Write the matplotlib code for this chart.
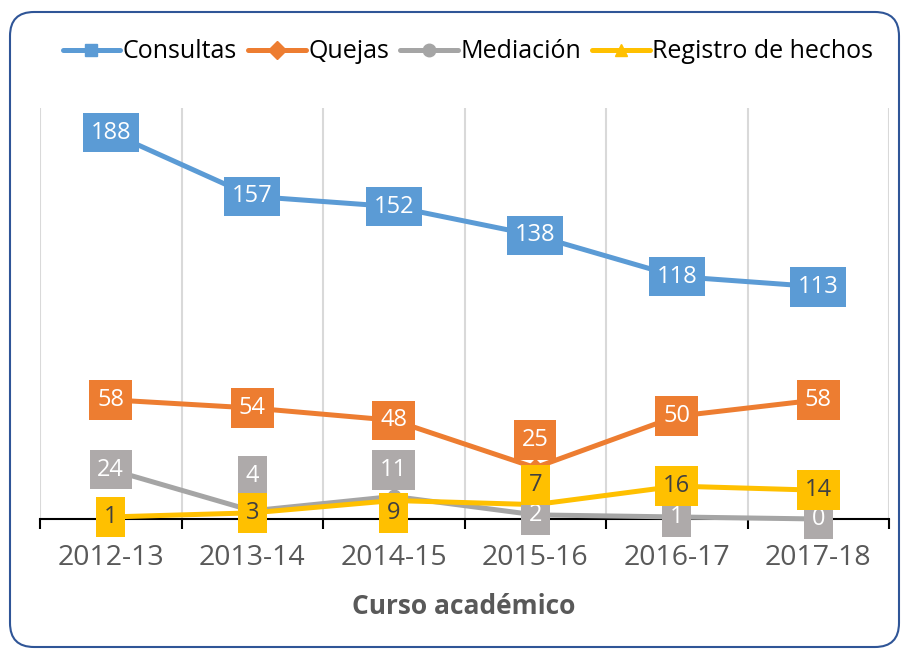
import matplotlib
matplotlib.use("Agg")
import matplotlib.pyplot as plt
from matplotlib.patches import FancyBboxPatch
from matplotlib.ticker import FixedLocator

plt.rcParams['font.family'] = ['Open Sans', 'DejaVu Sans']

# ─── Data ───
cursos = ["2012-13", "2013-14", "2014-15", "2015-16", "2016-17", "2017-18"]
consultas = [188, 157, 152, 138, 118, 113]
quejas = [58, 54, 48, 25, 50, 58]
mediacion = [24, 4, 11, 2, 1, 0]
registro = [1, 3, 9, 7, 16, 14]

series = [
    ("Consultas", consultas, "#5B9BD5", "#5B9BD5", "white", "s"),
    ("Quejas", quejas, "#ED7D31", "#ED7D31", "white", "D"),
    ("Mediación", mediacion, "#A5A5A5", "#AEAAAA", "white", "o"),
    ("Registro de hechos", registro, "#FFC000", "#FFC000", "#404040", "^"),
]

# label nudges in points (series index, category index) -> dy
nudges = {(1, 3): 20, (2, 1): 25, (2, 2): 19, (3, 2): -9, (3, 3): 14}

W, H = 903, 652
fig = plt.figure(figsize=(W / 100, H / 100), dpi=100)
fig.patch.set_facecolor("white")

# rounded border
bg = fig.add_axes([0, 0, 1, 1], zorder=-1)
bg.set_xlim(0, W)
bg.set_ylim(H, 0)
bg.axis("off")
bg.add_patch(FancyBboxPatch((10, 12), 889, 635,
                            boxstyle="round,pad=0,rounding_size=24",
                            facecolor="white", edgecolor="#2F5597", lw=1.5))

ax = fig.add_axes([40 / W, 1 - 519 / H, 849 / W, 411 / H])
ax.patch.set_alpha(0)
x = list(range(len(cursos)))
ax.set_xlim(-0.5, len(cursos) - 0.5)
ax.set_ylim(0, 200)

handles = []
for i, (name, vals, lc, bc, tc, mk) in enumerate(series):
    ln, = ax.plot(x, vals, color=lc, lw=3.6, marker=mk, markersize=9,
                  solid_capstyle="round", zorder=2 + i, label=name, clip_on=False)
    handles.append(ln)

for i, (name, vals, lc, bc, tc, mk) in enumerate(series):
    for j, v in enumerate(vals):
        dy = nudges.get((i, j), 0)
        ax.annotate(str(v), (j, v), xytext=(0, dy), textcoords="offset points",
                    ha="center", va="center", fontsize=17, color=tc,
                    bbox=dict(boxstyle="square,pad=0.33", facecolor=bc, edgecolor="none"),
                    zorder=10 + i, annotation_clip=False)

# axes styling
for s in ["top", "left", "right"]:
    ax.spines[s].set_visible(False)
ax.spines["bottom"].set_color("black")
ax.spines["bottom"].set_linewidth(1.5)
ax.set_yticks([])
ax.xaxis.set_major_locator(FixedLocator([k - 0.5 for k in range(len(cursos) + 1)]))
ax.xaxis.set_minor_locator(FixedLocator(x))
ax.set_xticklabels([])
ax.set_xticklabels(cursos, minor=True)
ax.tick_params(axis="x", which="major", direction="out", length=7, width=1.5, color="black")
ax.tick_params(axis="x", which="minor", length=0, pad=18, labelsize=20.5, labelcolor="#595959")
ax.grid(axis="x", which="major", color="#D9D9D9", lw=1.5, zorder=0)

fig.text(464 / W, 1 - 606 / H, "Curso académico", ha="center", va="center",
         fontsize=19, fontweight="bold", color="#595959")

fig.legend(handles=handles, loc="center", bbox_to_anchor=(468 / W, 1 - 52 / H),
           ncol=4, frameon=False, fontsize=18, handlelength=2.3,
           handletextpad=0.1, columnspacing=0.45, labelcolor="black")

fig.savefig("out.png", dpi=100, facecolor="white")
plt.close(fig)
